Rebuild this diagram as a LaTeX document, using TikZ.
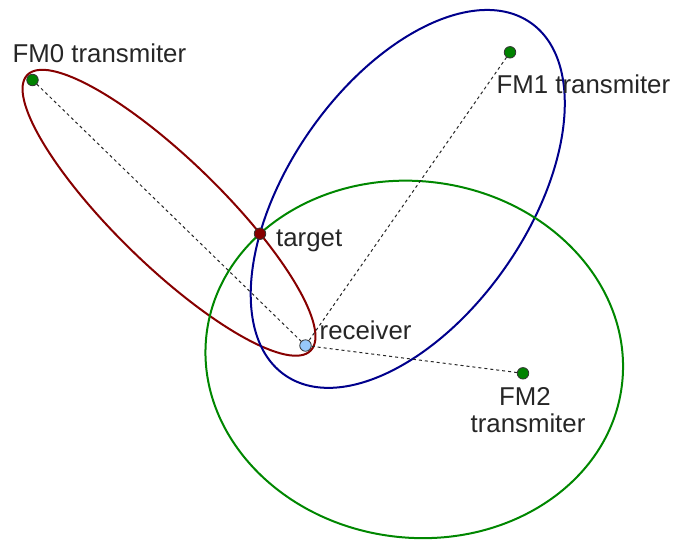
\documentclass[tikz,border=0pt]{standalone}
\usepackage{fontspec}
\setmainfont{Liberation Sans}
\begin{document}
\begin{tikzpicture}[x=1pt,y=1pt,
  dotnode/.style={circle,draw=black!80,line width=0.8pt,minimum size=11.5pt,inner sep=0pt},
  elline/.style={line width=2pt},
  rayline/.style={dash pattern=on 3pt off 3pt,line width=1pt,black!85},
  lbl/.style={inner sep=0pt,font=\fontsize{25.8}{30}\selectfont,text=black!85}]
\useasboundingbox (0,0) rectangle (684,-542);
\definecolor{fmgreen}{RGB}{0,130,0}
\definecolor{ellred}{RGB}{135,0,0}
\definecolor{ellblue}{RGB}{0,0,140}
\definecolor{ellgreen}{RGB}{0,135,0}
\definecolor{recblue}{RGB}{150,200,250}
% ellipses
\draw[elline,ellred,rotate around={-44.2:(169,-212.75)}] (169,-212.75) ellipse (197.65 and 53.0);
\draw[elline,ellblue,rotate around={55.1:(407.75,-198.9)}] (407.75,-198.9) ellipse (214.8 and 119.2);
\draw[elline,ellgreen,rotate around={-7.28:(414.25,-359.4)}] (414.25,-359.4) ellipse (209.25 and 178.2);
% points
\coordinate (fm0c) at (32.5,-80);
\coordinate (fm1c) at (510,-52.3);
\coordinate (fm2c) at (523,-373.3);
\coordinate (recc) at (305.5,-345.5);
\draw[rayline] (fm0c) -- (recc);
\draw[rayline] (fm1c) -- (recc);
\draw[rayline] (fm2c) -- (recc);
\node[dotnode,fill=fmgreen] (fm0) at (fm0c) {};
\node[dotnode,fill=fmgreen] (fm1) at (fm1c) {};
\node[dotnode,fill=fmgreen] (fm2) at (fm2c) {};
\node[dotnode,fill=recblue] (rec) at (recc) {};
\node[dotnode,fill=ellred] (tgt) at (260,-233.7) {};
% labels
\node[lbl,anchor=base west] (fm0lbl) at (12.5,-62.7) {FM0 transmiter};
\node[lbl,anchor=base west] (fm1lbl) at (496.5,-93.3) {FM1 transmiter};
\node[lbl,anchor=base west] (tgtlbl) at (276,-246.7) {target};
\node[lbl,anchor=base west] (reclbl) at (319.5,-339.3) {receiver};
\node[lbl,anchor=base] (fm2lbl) at (525,-405) {FM2};
\node[lbl,anchor=base] (fm2lblb) at (528,-432.7) {transmiter};
\end{tikzpicture}
\end{document}
